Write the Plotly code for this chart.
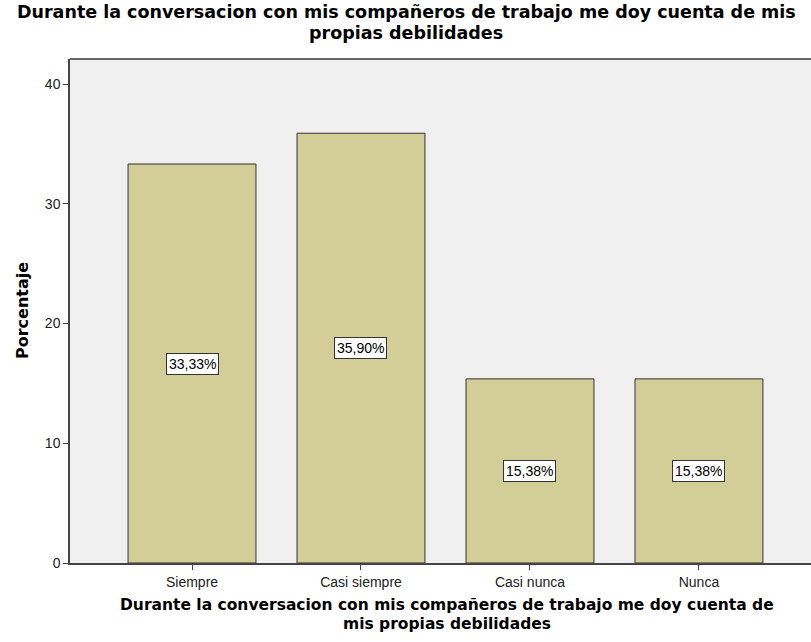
import plotly.graph_objects as go

categories = ["Siempre", "Casi siempre", "Casi nunca", "Nunca"]
percentages = [33.33, 35.90, 15.38, 15.38]
y_ticks = [0, 10, 20, 30, 40]

title_lines = ["Durante la conversacion con mis compañeros de trabajo me doy cuenta de mis",
               "propias debilidades"]
x_title_lines = ["Durante la conversacion con mis compañeros de trabajo me doy cuenta de",
                 "mis propias debilidades"]
y_title = "Porcentaje"

bar_color = "#D3CE97"
axis_color = "#444444"
tick_font = dict(family="Liberation Sans, Arial", size=14, color="#222222")

# page geometry of the plot area (pixels)
W, H = 811, 642
L, R, T, B = 70, 0, 59, 79
PW, PH = W - L - R, H - T - B


def px_x(px):
    return (px - L) / PW


def px_y(py):
    return (H - B - py) / PH


fig = go.Figure()
fig.add_trace(go.Bar(
    x=categories,
    y=percentages,
    width=0.757,
    marker=dict(color=bar_color, line=dict(color="#333333", width=1)),
    hoverinfo="skip",
))

# value labels in white boxes at half the bar height
for cat, val in zip(categories, percentages):
    fig.add_annotation(
        x=cat, y=val / 2, xref="x", yref="y",
        text=f"{val:.2f}%".replace(".", ","),
        showarrow=False,
        font=dict(family="Liberation Sans, Arial", size=14, color="#000000"),
        bgcolor="#FFFFFF",
        bordercolor="#333333",
        borderwidth=1,
        borderpad=2,
    )

# chart title, one annotation per line
for line, py in zip(title_lines, [12, 33]):
    fig.add_annotation(
        x=px_x(406), y=px_y(py), xref="paper", yref="paper",
        xanchor="center", yanchor="middle",
        text=line, showarrow=False,
        font=dict(family="DejaVu Sans, Verdana", size=17.5, color="#000000", weight="bold"),
    )

# x axis title
for line, py in zip(x_title_lines, [605, 624]):
    fig.add_annotation(
        x=px_x(447), y=px_y(py), xref="paper", yref="paper",
        xanchor="center", yanchor="middle",
        text=line, showarrow=False,
        font=dict(family="DejaVu Sans, Verdana", size=15.5, color="#000000", weight="bold"),
    )

# y axis title
fig.add_annotation(
    x=px_x(22), y=0.5, xref="paper", yref="paper",
    xanchor="center", yanchor="middle",
    text=y_title, textangle=-90,
    showarrow=False,
    font=dict(family="DejaVu Sans, Verdana", size=16, color="#000000", weight="bold"),
)

fig.update_layout(
    width=W, height=H,
    margin=dict(l=L, r=R, t=T, b=B),
    paper_bgcolor="#FFFFFF",
    plot_bgcolor="#F0F0F0",
    showlegend=False,
    bargap=0.243,
    xaxis=dict(
        type="category",
        range=[-0.722, 3.663],
        showgrid=False,
        showline=True, linecolor=axis_color, linewidth=1.5,
        ticks="outside", ticklen=5, tickcolor=axis_color,
        tickfont=tick_font,
    ),
    yaxis=dict(
        range=[0, 42.1],
        tickvals=y_ticks,
        showgrid=False, zeroline=False,
        showline=True, linecolor=axis_color, linewidth=1.5,
        ticks="outside", ticklen=5, tickcolor=axis_color,
        tickfont=tick_font,
    ),
)

# top frame line of the plot area
fig.add_shape(type="line", xref="paper", yref="paper", x0=0, x1=1, y0=1, y1=1,
              line=dict(color="#666666", width=2))

fig.write_html("out.html")
